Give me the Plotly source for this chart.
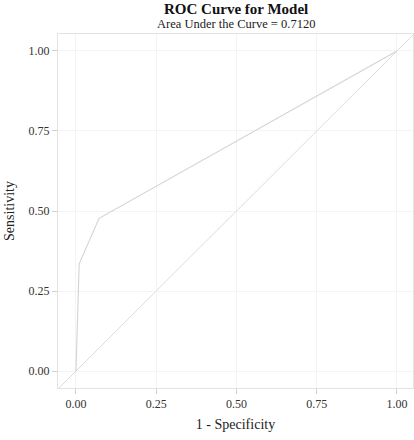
import plotly.graph_objects as go

# ROC curve points
fpr = [0.0, 0.010, 0.072, 1.0]
tpr = [0.0, 0.335, 0.477, 1.0]
auc = 0.7120

# reference diagonal (drawn across the whole panel)
diag = [-0.1, 1.1]

tick_vals = [0.0, 0.25, 0.5, 0.75, 1.0]
tick_text = ["0.00", "0.25", "0.50", "0.75", "1.00"]

fig = go.Figure()
fig.add_trace(go.Scatter(x=diag, y=diag, mode="lines",
                         line=dict(color="#dcdcdc", width=1), hoverinfo="skip"))
fig.add_trace(go.Scatter(x=fpr, y=tpr, mode="lines",
                         line=dict(color="#d3d3d3", width=1.1)))

axis_style = dict(
    tickvals=tick_vals, ticktext=tick_text,
    showline=True, mirror=True, linecolor="#e3e3e3", linewidth=1,
    ticks="outside", ticklen=5, tickcolor="#cfcfcf", tickwidth=1,
    showgrid=True, gridcolor="#f4f4f4", gridwidth=1,
    zeroline=False,
    tickfont=dict(family="Liberation Serif", size=12, color="#333333"),
)

fig.update_layout(
    width=414, height=440,
    margin=dict(l=58, r=1, t=34, b=52),
    plot_bgcolor="white", paper_bgcolor="white",
    showlegend=False,
    font=dict(family="Liberation Serif", color="#222222"),
    xaxis=dict(axis_style, range=[-0.056, 1.05],
               title=dict(text="1 - Specificity", font=dict(size=14), standoff=8)),
    yaxis=dict(axis_style, range=[-0.053, 1.053],
               title=dict(text="Sensitivity", font=dict(size=14), standoff=10)),
    annotations=[
        dict(text="<b>ROC Curve for Model</b>", x=0.5, y=1, xref="paper", yref="paper",
             xanchor="center", yanchor="bottom", yshift=15, showarrow=False,
             font=dict(size=15, color="#111111")),
        dict(text="Area Under the Curve = %.4f" % auc, x=0.5, y=1, xref="paper",
             yref="paper", xanchor="center", yanchor="bottom", yshift=1,
             showarrow=False, font=dict(size=12.5, color="#222222")),
    ],
)

# drop the browser's default body margin so the figure sits at the page corner
fig.write_html("out.html", config={"displayModeBar": False},
               post_script="document.body.style.margin='0';")
